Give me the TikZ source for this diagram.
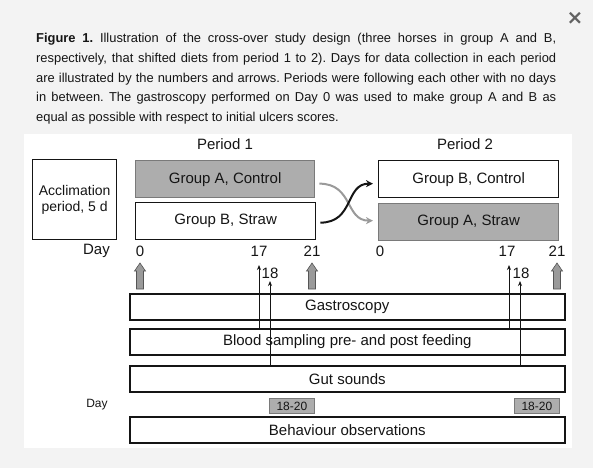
\documentclass[tikz,border=0pt]{standalone}
\usepackage{fontspec}
\setmainfont{Liberation Sans}
\newfontfamily\djvfont{DejaVu Sans}
\usetikzlibrary{arrows.meta}
\definecolor{pagebg}{HTML}{F3F3F3}
\definecolor{boxgray}{HTML}{ADADAD}
\definecolor{bordgray}{HTML}{7A7A7A}
\definecolor{txt}{HTML}{151515}
\definecolor{arrgray}{HTML}{9A9A9A}
\newcommand{\capline}[1]{\leavevmode\hbox to 520pt{#1}}
\begin{document}
\begin{tikzpicture}[x=1pt,y=-1pt,
  lbl/.style={font=\fontsize{15}{18}\selectfont, text=txt, inner sep=0},
  smalllbl/.style={font=\fontsize{12}{14}\selectfont, text=txt, inner sep=0},
  grpbox/.style={draw=txt, line width=1.3pt, fill=white, minimum height=37pt, anchor=north west, inner sep=0, font=\fontsize{15}{18}\selectfont, text=txt},
  graybox/.style={grpbox, draw=bordgray, fill=boxgray},
  longbox/.style={draw=txt, line width=1.6pt, fill=white, minimum width=435pt, minimum height=26pt, anchor=north west, inner sep=0, font=\fontsize{15}{18}\selectfont, text=txt},
  daybox/.style={draw=bordgray, line width=0.8pt, fill=boxgray, minimum width=45pt, minimum height=15pt, anchor=north west, inner sep=0, font=\fontsize{12}{14}\selectfont, text=txt},
  thinarrow/.style={draw=txt, line width=1pt, -{Stealth[length=5pt,width=4pt]}},
  crossblack/.style={draw=txt, line width=2pt, -{Stealth[length=7pt,width=7pt]}},
  crossgray/.style={draw=arrgray, line width=2pt, -{Stealth[length=7pt,width=7pt]}},
  blockarrow/.style={fill=arrgray, draw=bordgray!70!black, line width=0.6pt}
]
\useasboundingbox (0,0) rectangle (593,468);
\fill[pagebg] (0,0) rectangle (593,468);
\fill[white] (24,134) rectangle (572,448);

% close icon
\node[font=\djvfont\bfseries\fontsize{20}{20}\selectfont, text=bordgray!80!black, inner sep=0] (close) at (575,18) {×};

% caption
\node[anchor=north west, inner sep=0, text width=520pt, align=left,
      font=\fontsize{12.9}{19.75}\selectfont, text=txt] (cap) at (36,28.5) {%
\spaceskip=0.278em plus 2em minus 0.12em\relax
\xspaceskip=0.278em plus 2em minus 0.12em\relax
\capline{\strut\textbf{Figure 1.} Illustration of the cross-over study design (three horses in group A and B,}\\
\capline{respectively, that shifted diets from period 1 to 2). Days for data collection in each period}\\
\capline{are illustrated by the numbers and arrows. Periods were following each other with no days}\\
\capline{in between. The gastroscopy performed on Day 0 was used to make group A and B as}\\
equal as possible with respect to initial ulcers scores.};

% periods
\node[lbl] (p1) at (225,144) {Period 1};
\node[lbl] (p2) at (465,144) {Period 2};

% acclimation
\node[draw=txt, line width=1.3pt, fill=white, anchor=north west, minimum width=84pt, minimum height=80pt, inner sep=0,
      align=center, font=\fontsize{14}{15.5}\selectfont, text=txt] (accl) at (32,159) {Acclimation\\period, 5 d};

% group boxes
\node[graybox, minimum width=179pt] (gac) at (135,160) {Group A, Control};
\node[grpbox, minimum width=180pt] (gbs) at (135,202) {Group B, Straw};
\node[grpbox, minimum width=180pt] (gbc) at (378,160) {Group B, Control};
\node[graybox, minimum width=180pt] (gas) at (378,203) {Group A, Straw};

% cross-over arrows
\draw[crossgray] ([shift={(4,4.5)}]gac.east) .. controls +(34,0) and +(-28,0) .. ([shift={(-5,-1.5)}]gas.west);
\draw[crossblack] ([shift={(4,1.5)}]gbs.east) .. controls +(34,0) and +(-28,0) .. ([shift={(-5,4.5)}]gbc.west);

% day labels
\node[lbl, anchor=east] (day1) at (110,251) {Day};
\node[lbl] (d0a) at (140,251) {0};
\node[lbl] (d17a) at (259,251) {17};
\node[lbl] (d21a) at (312,251) {21};
\node[lbl] (d0b) at (380,251) {0};
\node[lbl] (d17b) at (507,251) {17};
\node[lbl] (d21b) at (557,251) {21};
\node[lbl] (d18a) at (270,273) {18};
\node[lbl] (d18b) at (521,273) {18};

% long boxes
\node[longbox] (gastro) at (129,293) {Gastroscopy};
\node[longbox] (blood) at (129,328) {Blood sampling pre- and post feeding};
\node[longbox] (gut) at (129,365) {Gut sounds};
\node[longbox] (behav) at (129,416) {Behaviour observations};

% day row for behaviour
\node[smalllbl] (day2) at (97,405) {Day};
\node[daybox] (r1) at (269,398) {18-20};
\node[daybox] (r2) at (514,398) {18-20};

% gray block arrows (gastroscopy days)
\foreach \cx in {140,312,557}{
  \path[blockarrow] (\cx,263) -- (\cx+5.5,271) -- (\cx+3.5,271) -- (\cx+3.5,289) -- (\cx-3.5,289) -- (\cx-3.5,271) -- (\cx-5.5,271) -- cycle;
}

% thin arrows
\coordinate (t17a) at (259,265);
\coordinate (t18a) at (270,281);
\coordinate (t17b) at (509,265);
\coordinate (t18b) at (520,281);
\draw[thinarrow] (blood.north -| t17a) -- (t17a);
\draw[thinarrow] (gut.north -| t18a) -- (t18a);
\draw[thinarrow] (blood.north -| t17b) -- (t17b);
\draw[thinarrow] (gut.north -| t18b) -- (t18b);
\end{tikzpicture}
\end{document}
